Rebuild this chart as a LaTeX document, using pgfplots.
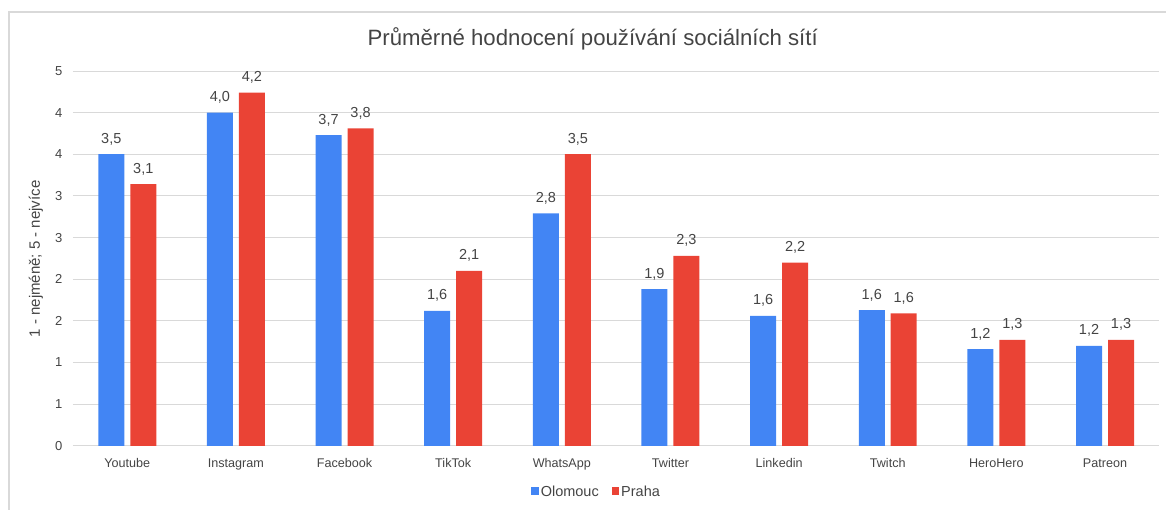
\documentclass[border=0pt]{standalone}
\usepackage{pgfplots}
\pgfplotsset{compat=1.18}
\usepackage{fontspec}
\setmainfont{Liberation Sans}
\definecolor{gblue}{HTML}{4285F4}
\definecolor{gred}{HTML}{EA4335}
\definecolor{txt}{HTML}{444444}
\definecolor{gridc}{HTML}{D9D9D9}
\begin{document}
\begin{tikzpicture}
\path (0,0) rectangle (1167bp,510bp);
\draw[color=gridc, line width=1.2bp] (9bp,0) -- (9bp,498bp) -- (1167bp,498bp);
\node[text=txt, font=\fontsize{22.2bp}{24bp}\selectfont] at (593bp,471bp) {Průměrné hodnocení používání sociálních sítí};
\node[text=txt, rotate=90, font=\fontsize{15bp}{16bp}\selectfont] at (36bp,251bp) {1 - nejméně; 5 - nejvíce};
\begin{axis}[
  at={(73bp,64bp)}, anchor=south west,
  scale only axis, width=1087bp, height=375bp,
  ybar=6bp, bar width=26bp,
  xmin=-0.5, xmax=9.5, ymin=0, ymax=4.5,
  xtick=data,
  xticklabels={Youtube,Instagram,Facebook,TikTok,WhatsApp,Twitter,Linkedin,Twitch,HeroHero,Patreon},
  ytick={0,0.5,1,1.5,2,2.5,3,3.5,4,4.5},
  yticklabels={0,1,1,2,2,3,3,4,4,5},
  ymajorgrids, grid style={color=gridc, line width=0.9bp},
  axis line style={draw=none},
  major tick length=0pt,
  xticklabel style={text=txt, font=\fontsize{12.6bp}{14bp}\selectfont, text height=9bp, text depth=3bp, yshift=-9bp},
  yticklabel style={text=txt, font=\fontsize{13bp}{14bp}\selectfont, xshift=-7bp},
  nodes near coords,
  every node near coord/.append style={anchor=base, inner sep=0pt, yshift=11bp, text=txt, font=\fontsize{14.5bp}{16bp}\selectfont},
  nodes near coords style={/pgf/number format/.cd, fixed, fixed zerofill, precision=1, use comma, assume math mode=true},
  legend columns=2,
  legend style={at={(0.482,-0.1227)}, anchor=center, draw=none, fill=none, font=\fontsize{14.5bp}{16bp}\selectfont, text=txt,
    nodes={inner xsep=2bp},
    /tikz/every even column/.append style={column sep=11bp}},
  legend image code/.code={\fill[#1, draw=none] (0bp,-3.5bp) rectangle (7.5bp,4.5bp);},
]
\addplot[fill=gblue, draw=none] coordinates {(0,3.50) (1,4.00) (2,3.73) (3,1.62) (4,2.79) (5,1.88) (6,1.56) (7,1.63) (8,1.16) (9,1.20)};
\addplot[fill=gred, draw=none] coordinates {(0,3.14) (1,4.24) (2,3.81) (3,2.10) (4,3.50) (5,2.28) (6,2.20) (7,1.59) (8,1.27) (9,1.27)};
\legend{Olomouc,Praha}
\end{axis}
\end{tikzpicture}
\end{document}
